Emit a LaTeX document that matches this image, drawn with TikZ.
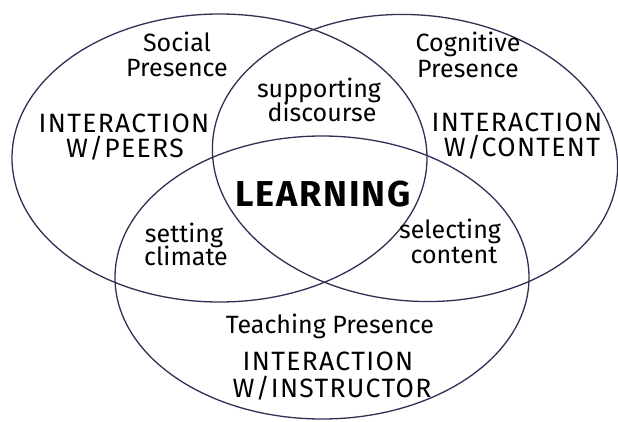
\documentclass[tikz,border=0pt]{standalone}
\usepackage{fontspec}
\setmainfont{Fira Sans}
\definecolor{ringcol}{RGB}{48,48,84}
\begin{document}
\begin{tikzpicture}[x=1pt,y=1pt,
  ring/.style={draw=ringcol,line width=1.3pt},
  lbl/.style={anchor=base,inner sep=0pt,font=\fontsize{25}{25}\selectfont},
  caps/.style={anchor=base,inner sep=0pt,font=\fontsize{26.5}{26.5}\selectfont\addfontfeatures{LetterSpace=5}},
  big/.style={anchor=base,inner sep=0pt,font=\fontsize{36}{36}\selectfont\bfseries\addfontfeatures{LetterSpace=5}}]
\useasboundingbox (0,0) rectangle (618,421);
\fill[white] (0,0) rectangle (618,421);
% circles
\draw[ring] (219.5,263) ellipse [x radius=207.5, y radius=144];
\draw[ring,rotate around={-5:(415,263)}] (415,263) ellipse [x radius=203, y radius=143];
\draw[ring] (322,143.5) ellipse [x radius=207, y radius=141.5];
% social
\node[lbl] (soc1) at (177,369) {Social};
\node[lbl] (soc2) at (177,344) {Presence};
\node[caps] (peer1) at (124,288) {INTERACTION};
\node[caps] (peer2) at (125,263) {W/PEERS};
% cognitive
\node[lbl] (cog1) at (468,369) {Cognitive};
\node[lbl] (cog2) at (468,343) {Presence};
\node[caps] (cont1) at (517,289) {INTERACTION};
\node[caps] (cont2) at (522,264) {W/CONTENT};
% intersections
\node[lbl] (sup1) at (319,323.3) {supporting};
\node[lbl] (sup2) at (322,299.3) {discourse};
\node[big] (learn) at (323,214.3) {LEARNING};
\node[lbl] (set1) at (184,179) {setting};
\node[lbl] (set2) at (186,156) {climate};
\node[lbl] (sel1) at (450,182.7) {selecting};
\node[lbl] (sel2) at (454,157.7) {content};
% teaching
\node[lbl] (tea) at (330,88) {Teaching Presence};
\node[caps] (ins1) at (328,51) {INTERACTION};
\node[caps] (ins2) at (332,24) {W/INSTRUCTOR};
\end{tikzpicture}
\end{document}
